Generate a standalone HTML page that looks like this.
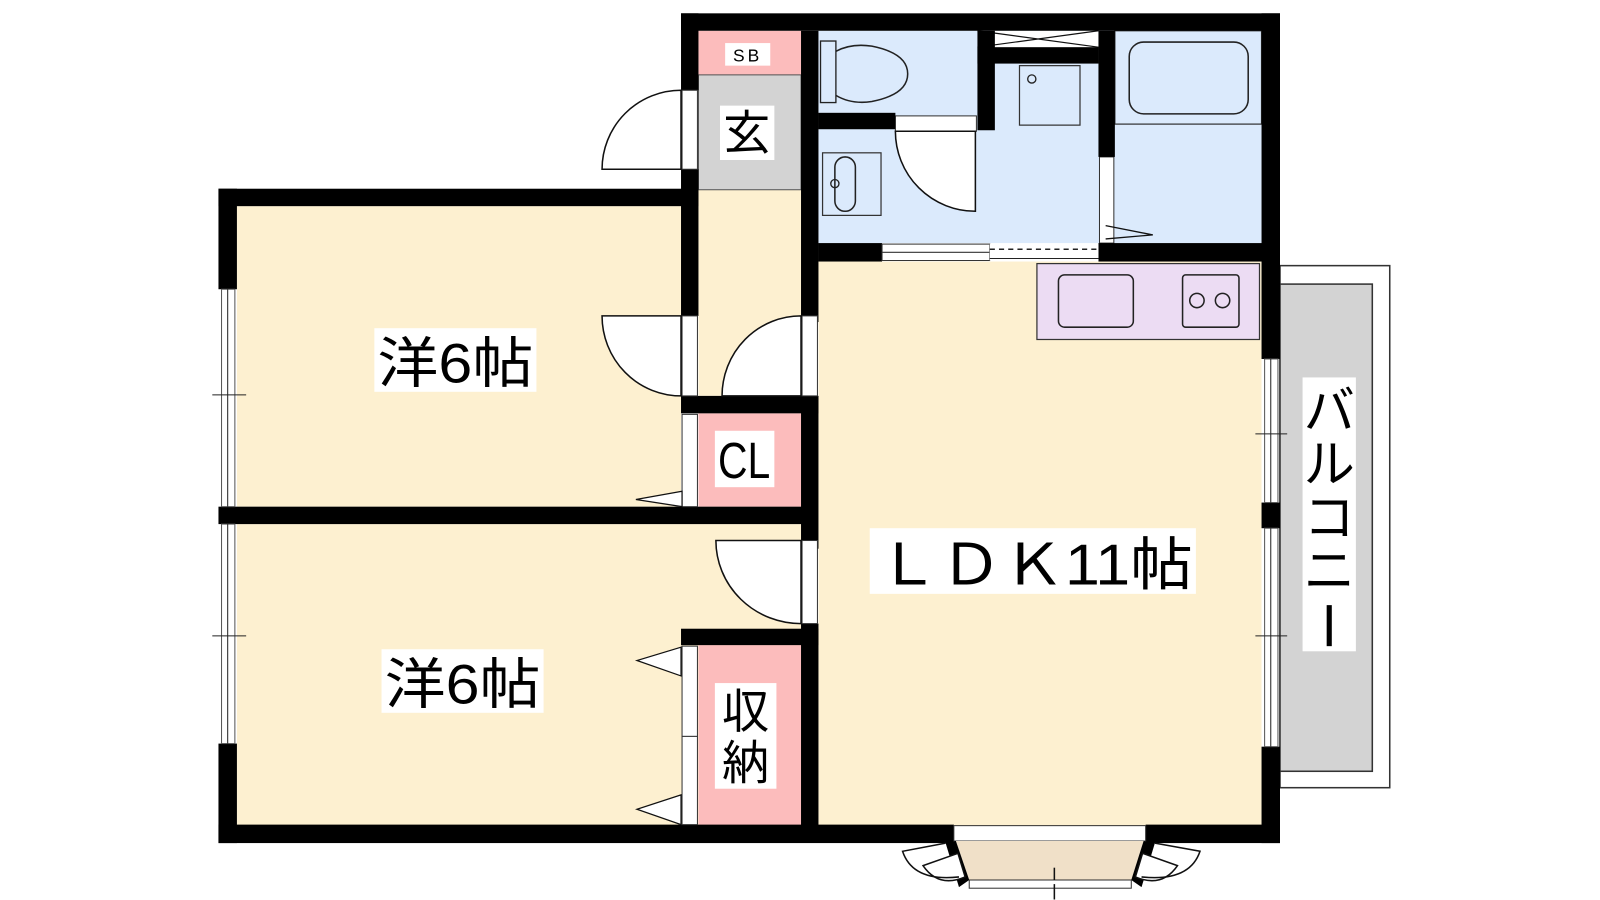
<!DOCTYPE html>
<html><head><meta charset="utf-8"><style>
html,body{margin:0;padding:0;background:#fff;}
svg{display:block}
text{font-family:"Liberation Sans","Noto Sans CJK JP",sans-serif;fill:#000}
</style></head><body>
<svg width="1600" height="900" viewBox="0 0 1560 877.5" preserveAspectRatio="none" xmlns="http://www.w3.org/2000/svg">
<!-- balcony -->
<rect x="1248" y="259" width="107" height="509" fill="#fff" stroke="#333" stroke-width="1.5"/>
<rect x="1248" y="277" width="90" height="475" fill="#d3d3d3" stroke="#333" stroke-width="1.5"/>
<!-- room fills -->
<rect x="231" y="201" width="433" height="293" fill="#fdf0d0"/>
<rect x="231" y="511" width="550" height="294" fill="#fdf0d0"/>
<rect x="681" y="185" width="100" height="201" fill="#fdf0d0"/>
<rect x="681" y="30" width="100" height="43" fill="#fcbcbc"/>
<rect x="681" y="73" width="100" height="112" fill="#d3d3d3" stroke="#555" stroke-width="1"/>
<rect x="681" y="403" width="100" height="91" fill="#fcbcbc"/>
<rect x="681" y="629" width="100" height="176" fill="#fcbcbc"/>
<rect x="798" y="255" width="432" height="550" fill="#fdf0d0"/>
<rect x="798" y="30" width="432" height="207" fill="#dbeafc"/>
<!-- kitchen -->
<rect x="1011" y="257" width="217" height="74" fill="#ecdcf3" stroke="#333" stroke-width="1.2"/>
<rect x="1032" y="268" width="73" height="51" rx="6" fill="none" stroke="#222" stroke-width="1.5"/>
<rect x="1153" y="268" width="55" height="51" rx="3" fill="none" stroke="#222" stroke-width="1.5"/>
<circle cx="1167" cy="293" r="7" fill="none" stroke="#222" stroke-width="1.5"/>
<circle cx="1192" cy="293" r="7" fill="none" stroke="#222" stroke-width="1.5"/>
<!-- bath fixtures -->
<rect x="800" y="40" width="15" height="60" fill="none" stroke="#222" stroke-width="1.3"/>
<path d="M815 50 Q830 42 850 45 Q885 52 885 72 Q885 92 850 99 Q830 102 815 93" fill="none" stroke="#222" stroke-width="1.5"/>
<rect x="1087" y="30" width="143" height="91" fill="none" stroke="#333" stroke-width="1.2"/>
<rect x="1101" y="41" width="116" height="70" rx="14" fill="none" stroke="#222" stroke-width="1.5"/>
<rect x="994" y="64" width="59" height="58" fill="none" stroke="#333" stroke-width="1.2"/>
<circle cx="1006" cy="77" r="4" fill="none" stroke="#222" stroke-width="1.3"/>
<rect x="802" y="149" width="57" height="61" fill="none" stroke="#333" stroke-width="1.2"/>
<rect x="814" y="153" width="20" height="53" rx="10" fill="none" stroke="#222" stroke-width="1.5"/>
<circle cx="814" cy="179" r="4" fill="none" stroke="#222" stroke-width="1.3"/>
<!-- bath doors -->
<rect x="873" y="113" width="79" height="15" fill="#fff" stroke="#333" stroke-width="1"/>
<path d="M873 128 A78 78 0 0 0 951 206 L951 128 Z" fill="#fff" stroke="#111" stroke-width="1.5"/>
<rect x="1072" y="153" width="14" height="84" fill="#fff" stroke="#333" stroke-width="1"/>
<path d="M1078 220 L1124 229 L1078 233" fill="none" stroke="#111" stroke-width="1.3"/>
<rect x="953" y="30" width="118" height="17" fill="#fff"/>
<path d="M953 30 L1071 46 M953 46 L1071 30" stroke="#111" stroke-width="1.2"/>
<!-- walls -->
<g fill="#000">
<rect x="664" y="13" width="584" height="17"/>
<rect x="664" y="13" width="17" height="75"/>
<rect x="664" y="165" width="17" height="143"/>
<rect x="213" y="184" width="468" height="17"/>
<rect x="213" y="184" width="18" height="98"/>
<rect x="213" y="725" width="18" height="97"/>
<rect x="213" y="804" width="717" height="18"/>
<rect x="1117" y="804" width="131" height="18"/>
<rect x="1230" y="13" width="18" height="337"/>
<rect x="1230" y="490" width="18" height="25"/>
<rect x="1230" y="728" width="18" height="94"/>
<rect x="213" y="494" width="584" height="17"/>
<rect x="781" y="30" width="17" height="284"/>
<rect x="781" y="386" width="17" height="149"/>
<rect x="781" y="608" width="17" height="197"/>
<rect x="664" y="386" width="134" height="17"/>
<rect x="664" y="613" width="134" height="16"/>
<rect x="798" y="110" width="75" height="16"/>
<rect x="953" y="30" width="17" height="97"/>
<rect x="953" y="46" width="118" height="16"/>
<rect x="1071" y="30" width="16" height="123"/>
<rect x="798" y="237" width="62" height="18"/>
<rect x="1071" y="237" width="177" height="18"/>
</g>
<!-- LDK/bath sliding doors -->
<rect x="860" y="238" width="105" height="16" fill="#fff" stroke="#333" stroke-width="1"/>
<line x1="860" y1="246" x2="965" y2="246" stroke="#333" stroke-width="1"/>
<rect x="965" y="238" width="106" height="16" fill="#fff"/>
<line x1="965" y1="243" x2="1071" y2="243" stroke="#222" stroke-width="1.5" stroke-dasharray="5,4"/>
<line x1="965" y1="252" x2="1071" y2="252" stroke="#222" stroke-width="1"/>
<!-- doors -->
<rect x="665" y="88" width="15" height="77" fill="#fff" stroke="#333" stroke-width="1"/>
<path d="M664 88 A77 77 0 0 0 587 165 L664 165 Z" fill="#fff" stroke="#111" stroke-width="1.5"/>
<rect x="665" y="308" width="15" height="78" fill="#fff" stroke="#333" stroke-width="1"/>
<path d="M587 308 A77 78 0 0 0 664 386 L664 308 Z" fill="#fff" stroke="#111" stroke-width="1.5"/>
<rect x="782" y="308" width="15" height="78" fill="#fff" stroke="#333" stroke-width="1"/>
<path d="M781 308 A77 78 0 0 0 704 386 L781 386 Z" fill="#fff" stroke="#111" stroke-width="1.5"/>
<rect x="782" y="527" width="15" height="81" fill="#fff" stroke="#333" stroke-width="1"/>
<path d="M698 527 A83 81 0 0 0 781 608 L781 527 Z" fill="#fff" stroke="#111" stroke-width="1.5"/>
<!-- CL sliding -->
<rect x="665" y="404" width="15" height="90" fill="#fff" stroke="#333" stroke-width="1"/>
<path d="M665 479 L620 487 L665 494 Z" fill="#fff" stroke="#111" stroke-width="1.2"/>
<!-- storage sliding -->
<rect x="665" y="630" width="15" height="88" fill="#fff" stroke="#333" stroke-width="1"/>
<rect x="665" y="718" width="15" height="86" fill="#fff" stroke="#333" stroke-width="1"/>
<path d="M664 631 L621 644 L664 659 Z" fill="#fff" stroke="#111" stroke-width="1.2"/>
<path d="M664 775 L621 789 L664 804 Z" fill="#fff" stroke="#111" stroke-width="1.2"/>
<!-- windows left -->
<g fill="#fff" stroke="#555" stroke-width="1">
<rect x="216" y="282" width="13" height="212"/>
<rect x="216" y="511" width="13" height="214"/>
<rect x="1233" y="350" width="13" height="140"/>
<rect x="1233" y="515" width="13" height="213"/>
</g>
<g stroke="#222" stroke-width="1">
<line x1="222" y1="282" x2="222" y2="494"/><line x1="222" y1="511" x2="222" y2="725"/>
<line x1="1239" y1="350" x2="1239" y2="490"/><line x1="1239" y1="515" x2="1239" y2="728"/>
<line x1="207" y1="385" x2="240" y2="385"/><line x1="207" y1="620" x2="240" y2="620"/>
<line x1="1224" y1="423" x2="1255" y2="423"/><line x1="1224" y1="620" x2="1255" y2="620"/>
</g>
<!-- bay window -->
<rect x="930" y="805" width="187" height="15" fill="#fff" stroke="#333" stroke-width="1"/>
<path d="M932 820 L1115 820 L1103 858 L945 858 Z" fill="#f0e0c8"/>
<rect x="945" y="858" width="158" height="8" fill="#fff" stroke="#333" stroke-width="1"/>
<line x1="1028" y1="862" x2="1028" y2="877" stroke="#111" stroke-width="1.5"/>
<line x1="1028" y1="846" x2="1028" y2="858" stroke="#111" stroke-width="1.5"/>
<path d="M932 820 L945 858 L935 865 L922 822 Z" fill="#000"/>
<path d="M1115 820 L1103 858 L1113 865 L1126 822 Z" fill="#000"/>
<path d="M900 844 L934 832 L941 855 Q915 866 900 844 Z" fill="#fff" stroke="#111" stroke-width="1.5"/>
<path d="M1148 844 L1114 832 L1107 855 Q1133 866 1148 844 Z" fill="#fff" stroke="#111" stroke-width="1.5"/>
<path d="M922 822 L880 830 Q890 860 935 855" fill="none" stroke="#111" stroke-width="1.5"/>
<path d="M1126 822 L1170 830 Q1160 860 1113 855" fill="none" stroke="#111" stroke-width="1.5"/>
<!-- labels -->
<rect x="707" y="42" width="44" height="22" fill="#fff"/>
<text x="729" y="60" font-size="17" text-anchor="middle" letter-spacing="3">SB</text>
<rect x="702" y="103" width="53" height="53" fill="#fff"/>
<text x="728" y="146" font-size="46" text-anchor="middle">玄</text>
<rect x="365" y="320" width="158" height="62" fill="#fff"/>
<text x="368" y="373" font-size="54" textLength="152" lengthAdjust="spacingAndGlyphs">洋6帖</text>
<rect x="372" y="633" width="158" height="62" fill="#fff"/>
<text x="375" y="686" font-size="54" textLength="152" lengthAdjust="spacingAndGlyphs">洋6帖</text>
<rect x="697" y="420" width="58" height="55" fill="#fff"/>
<text x="700" y="466" font-size="50" textLength="51" lengthAdjust="spacingAndGlyphs">CL</text>
<rect x="697" y="666" width="60" height="103" fill="#fff"/>
<text x="727" y="710" font-size="46" text-anchor="middle">収</text>
<text x="727" y="760" font-size="46" text-anchor="middle">納</text>
<rect x="848" y="515" width="318" height="64" fill="#fff"/>
<text x="855" y="570" font-size="56" textLength="308" lengthAdjust="spacingAndGlyphs">ＬＤＫ11帖</text>
<rect x="1270" y="368" width="52" height="267" fill="#fff"/>
<text x="1296" y="418" font-size="50" text-anchor="middle">バ</text>
<text x="1296" y="470" font-size="50" text-anchor="middle">ル</text>
<text x="1296" y="522" font-size="50" text-anchor="middle">コ</text>
<text x="1296" y="574" font-size="50" text-anchor="middle">ニ</text>
<line x1="1296" y1="590" x2="1296" y2="630" stroke="#000" stroke-width="5"/>
</svg>
</body></html>
